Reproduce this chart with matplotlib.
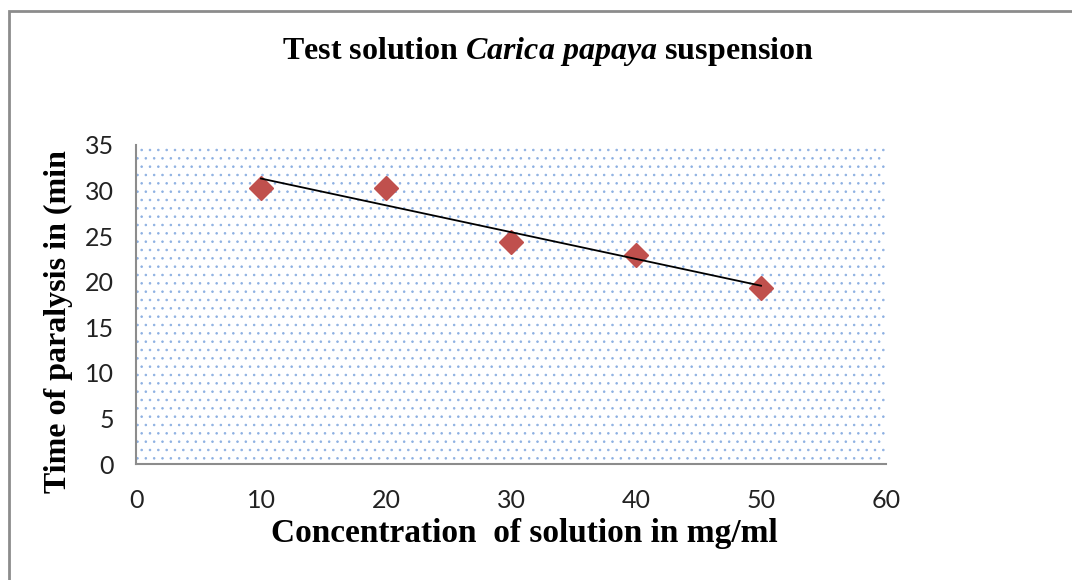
import numpy as np
import matplotlib
matplotlib.use('Agg')
import matplotlib.pyplot as plt
from matplotlib.patches import Rectangle

# data
conc = [10, 20, 30, 40, 50]
paralysis_time = [30.3, 30.3, 24.4, 22.9, 19.3]
x_ticks = [0, 10, 20, 30, 40, 50, 60]
y_ticks = [0, 5, 10, 15, 20, 25, 30, 35]

plt.rcParams['mathtext.fontset'] = 'custom'
plt.rcParams['mathtext.rm'] = 'Liberation Serif:bold'
plt.rcParams['mathtext.it'] = 'Liberation Serif:italic:bold'
plt.rcParams['hatch.linewidth'] = 0.6

fig = plt.figure(figsize=(10.72, 5.8), dpi=100)
ax = fig.add_axes([136 / 1072, 1 - 464 / 580, 750 / 1072, 319 / 580])

# outer frame of the chart area (only top and left edges visible)
fig.patches.append(Rectangle((9 / 1072, -0.1), 1.2, 1 - 11 / 580 + 0.1,
                             transform=fig.transFigure, fill=False,
                             edgecolor='#8c8c8c', linewidth=2))

# dotted plot area background
ax.patch.set_facecolor('white')
ax.patch.set_hatch('..')
ax.patch.set_edgecolor('#8db0e2')
ax.patch.set_linewidth(0)

ax.plot(conc, paralysis_time, linestyle='none', marker='D', markersize=12,
        color='#c0504d', zorder=3)

# linear trendline
slope, intercept = np.polyfit(conc, paralysis_time, 1)
xs = np.array([conc[0], conc[-1]])
ax.plot(xs, slope * xs + intercept, color='black', linewidth=1.3, zorder=4)

ax.set_xlim(0, 60)
ax.set_ylim(0, 35)
ax.set_xticks(x_ticks)
ax.set_yticks(y_ticks)
ax.tick_params(length=0, labelsize=18, colors='#222222')
ax.tick_params(axis='y', pad=16)
ax.tick_params(axis='x', pad=18)
for lab in ax.get_xticklabels() + ax.get_yticklabels():
    lab.set_fontfamily('Lato')

for s in ['top', 'right']:
    ax.spines[s].set_visible(False)
for s in ['left', 'bottom']:
    ax.spines[s].set_color('#8c8c8c')
    ax.spines[s].set_linewidth(1.5)

ax.set_xlabel('Concentration  of solution in mg/ml', fontfamily='Liberation Serif',
              fontweight='bold', fontsize=24)
ax.xaxis.set_label_coords((524 - 136) / 750, -(518 - 464) / 319)
ax.set_ylabel('Time of paralysis in (min', fontfamily='Liberation Serif',
              fontweight='bold', fontsize=23)
ax.yaxis.set_label_coords(-(136 - 73) / 750, (464 - 322) / 319)
fig.text(548 / 1072, 1 - 52 / 580, r'Test solution $\mathit{Carica\ papaya}$ suspension',
         ha='center', va='center', fontfamily='Liberation Serif', fontweight='bold',
         fontsize=23)

fig.savefig('out.png', dpi=100)
